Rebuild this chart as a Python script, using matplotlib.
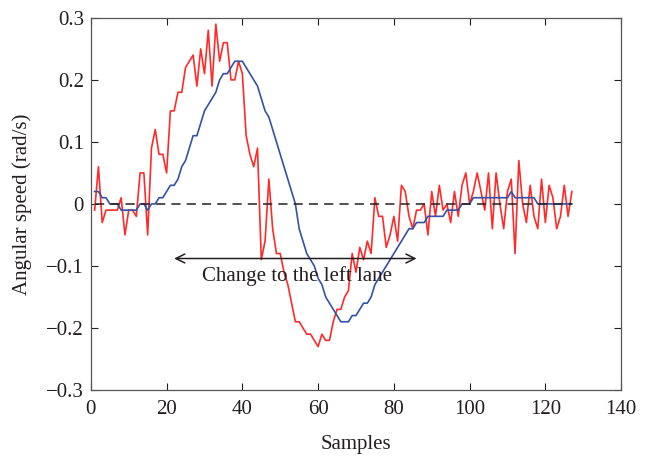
import matplotlib
matplotlib.use("Agg")
import matplotlib.pyplot as plt
import numpy as np

# Measured yaw rate (red) and its filtered estimate (blue), one value per sample
samples = list(range(1, 128))

measured = [
    -0.01, 0.06, -0.03, -0.01, -0.01, -0.01, -0.01, 0.01, -0.05, -0.01,
    -0.01, -0.02, 0.05, 0.05, -0.05, 0.09, 0.12, 0.08, 0.08, 0.05,
    0.15, 0.15, 0.18, 0.18, 0.22, 0.23, 0.24, 0.19, 0.25, 0.21,
    0.28, 0.19, 0.29, 0.23, 0.26, 0.26, 0.20, 0.20, 0.23, 0.21,
    0.11, 0.08, 0.06, 0.09, -0.09, -0.06, 0.04, -0.04, -0.08, -0.08,
    -0.11, -0.13, -0.16, -0.19, -0.19, -0.20, -0.21, -0.21, -0.22, -0.23,
    -0.21, -0.22, -0.22, -0.19, -0.17, -0.17, -0.15, -0.14, -0.08, -0.11,
    -0.07, -0.09, -0.06, -0.08, 0.01, -0.02, -0.02, -0.07, -0.05, -0.02,
    -0.06, 0.03, 0.02, -0.02, -0.04, -0.01, -0.01, 0.00, -0.05, 0.02,
    -0.02, 0.03, -0.01, 0.00, -0.03, 0.02, -0.02, 0.03, 0.05, 0.00,
    0.02, 0.05, 0.02, -0.01, 0.05, -0.04, 0.05, 0.00, -0.04, 0.02,
    0.04, -0.08, 0.07, 0.00, -0.03, 0.03, -0.02, -0.04, 0.04, -0.03,
    0.03, 0.01, -0.04, -0.02, 0.03, -0.02, 0.02,
]

filtered = [
    0.02, 0.02, 0.01, 0.01, 0.00, 0.00, 0.00, -0.01, -0.01, -0.01,
    -0.01, -0.01, 0.00, 0.00, -0.01, 0.00, 0.00, 0.01, 0.01, 0.02,
    0.03, 0.03, 0.04, 0.06, 0.07, 0.09, 0.11, 0.11, 0.13, 0.15,
    0.16, 0.17, 0.18, 0.20, 0.21, 0.21, 0.22, 0.23, 0.23, 0.23,
    0.22, 0.21, 0.20, 0.19, 0.17, 0.15, 0.14, 0.12, 0.10, 0.08,
    0.06, 0.04, 0.02, 0.00, -0.04, -0.06, -0.08, -0.09, -0.10, -0.12,
    -0.13, -0.15, -0.16, -0.17, -0.18, -0.19, -0.19, -0.19, -0.18, -0.18,
    -0.17, -0.16, -0.16, -0.15, -0.13, -0.12, -0.11, -0.10, -0.09, -0.08,
    -0.07, -0.06, -0.05, -0.04, -0.04, -0.03, -0.03, -0.03, -0.02, -0.02,
    -0.02, -0.02, -0.02, -0.01, -0.01, -0.01, -0.01, 0.00, 0.00, 0.00,
    0.01, 0.01, 0.01, 0.01, 0.01, 0.01, 0.01, 0.01, 0.01, 0.01,
    0.02, 0.01, 0.01, 0.01, 0.01, 0.01, 0.01, 0.00, 0.00, 0.00,
    0.00, 0.00, 0.00, 0.00, 0.00, 0.00, 0.00,
]

x_ticks = [0, 20, 40, 60, 80, 100, 120, 140]
y_ticks = [-0.3, -0.2, -0.1, 0.0, 0.1, 0.2, 0.3]
y_tick_labels = ["\u22120.3", "\u22120.2", "\u22120.1", "0", "0.1", "0.2", "0.3"]

lane_change_start, lane_change_end, lane_change_level = 22, 86, -0.088
lane_change_text = "Change to the left lane"

ink = "#231f20"
plt.rcParams["font.family"] = ["Liberation Serif", "DejaVu Serif"]

fig = plt.figure(figsize=(6.49, 4.58), dpi=100)
ax = fig.add_axes([0.140, 0.1485, 0.817, 0.8125])

ax.plot(samples, measured, color="#ff2a2a", lw=1.2, zorder=2)
ax.plot(samples, filtered, color="#3550a8", lw=1.2, zorder=3)
ax.plot([samples[0], samples[-1]], [0, 0], color=ink, lw=1.1,
        dashes=(6, 4), zorder=4)

ax.annotate("", xy=(lane_change_start, lane_change_level),
            xytext=(lane_change_end, lane_change_level),
            arrowprops=dict(arrowstyle="<->", color=ink, lw=1.1,
                            mutation_scale=16, shrinkA=0, shrinkB=0),
            zorder=5)
ax.text((lane_change_start + lane_change_end) / 2 + 0.5, lane_change_level - 0.012,
        lane_change_text, ha="center", va="top", fontsize=15, color=ink,
        zorder=6)

ax.set_xlim(0, 140)
ax.set_ylim(-0.3, 0.3)
ax.set_xticks(x_ticks)
ax.set_yticks(y_ticks)
ax.set_yticklabels(y_tick_labels)
ax.tick_params(direction="in", length=5, width=0.8, colors=ink,
               labelsize=15, top=True, right=True)
ax.tick_params(axis="x", pad=7)
ax.tick_params(axis="y", pad=5)
for s in ax.spines.values():
    s.set_color("#555555")
    s.set_linewidth(0.9)

ax.set_xlabel("Samples", fontsize=15, color=ink, labelpad=12)
ax.set_ylabel("Angular speed (rad/s)", fontsize=15, color=ink, labelpad=10)

fig.savefig("out.png", dpi=100)
